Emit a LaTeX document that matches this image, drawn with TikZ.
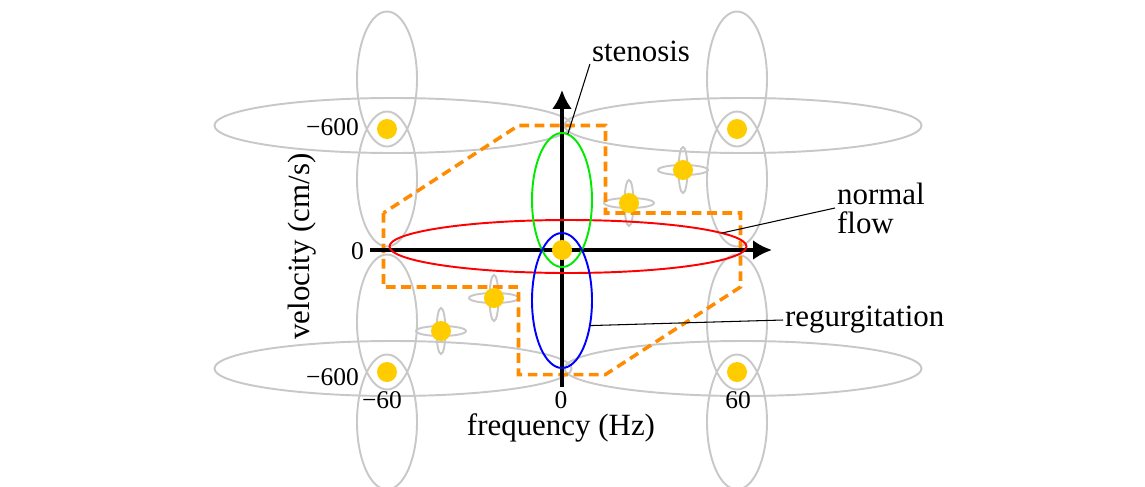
\documentclass[tikz,border=0pt]{standalone}
\usepackage{fontspec}
\setmainfont{Liberation Serif}
\usepackage{xcolor}
\usetikzlibrary{arrows.meta, shapes.geometric, positioning}
\definecolor{spotyellow}{RGB}{255,204,0}
\definecolor{dashorange}{RGB}{255,140,0}
\definecolor{ghostgray}{RGB}{200,200,200}
\definecolor{stengreen}{RGB}{0,235,0}

\begin{document}
\begin{tikzpicture}[>={Latex[length=10.8pt,width=11.4pt]},
    ghost/.style={draw=ghostgray, line width=1.1pt},
    flowell/.style={ellipse, draw, line width=1.1pt, inner sep=0pt, outer sep=0pt},
    spot/.style={fill=spotyellow},
    lbl/.style={font=\fontsize{17.6}{16.5}\selectfont, inner sep=1pt},
    ticklbl/.style={font=\fontsize{14.5}{16}\selectfont, inner sep=1pt}]
    \useasboundingbox (-11.24,-4.72) rectangle (11.66,5.0);

    % Các elip mờ quanh các điểm chồng phổ
    \foreach \a/\b in {-3.5/2.42, 3.5/2.42, -3.5/-2.44, 3.5/-2.44} {
        \draw[ghost] (\a+0.12,\b+0.07) ellipse (3.57 and 0.55);
        \draw[ghost] (\a,\b+1) ellipse (0.6 and 1.35);
        \draw[ghost] (\a,\b-1) ellipse (0.6 and 1.35);
    }
    \foreach \a/\b in {2.42/1.6, 1.34/0.94, -1.36/-0.96, -2.42/-1.62} {
        \draw[ghost] (\a,\b) ellipse (0.5 and 0.1);
        \draw[ghost] (\a,\b) ellipse (0.09 and 0.46);
    }

    % Đường nét đứt
    \draw[dashorange, line width=2pt, dash pattern=on 5.5pt off 3.2pt]
        (-3.57,0.74) -- (-3.57,-0.74) -- (-0.87,-0.74) -- (-0.87,-2.49)
        -- (0.87,-2.49) -- (3.57,-0.74) -- (3.57,0.74) -- (0.87,0.74)
        -- (0.87,2.49) -- (-0.87,2.49) -- cycle;

    % Hệ trục
    \draw[->, line width=2.3pt] (-3.84,0) -- (4.2,0);
    \draw[->, line width=2.3pt] (0,-2.74) -- (0,3.2);

    % Các elip dòng chảy
    \node[flowell, draw=red, minimum width=7.14cm, minimum height=1.06cm] (normal) at (0.12,0.07) {};
    \node[flowell, draw=stengreen, minimum width=1.2cm, minimum height=2.68cm] (sten) at (0,1.0) {};
    \node[flowell, draw=blue, minimum width=1.2cm, minimum height=2.7cm] (regurg) at (0,-1.01) {};

    % Các điểm
    \foreach \a/\b in {0/0, -3.5/2.42, 3.5/2.42, -3.5/-2.44, 3.5/-2.44,
                       2.42/1.6, 1.34/0.94, -1.36/-0.96, -2.42/-1.62} {
        \fill[spot] (\a,\b) circle (0.2);
    }

    % Nhãn trục
    \node[ticklbl] (x0) at (-0.02,-3.0) {0};
    \node[ticklbl] (xm60) at (-3.6,-3.0) {−60};
    \node[ticklbl] (x60) at (3.52,-3.0) {60};
    \node[ticklbl] (y0) at (-4.09,-0.03) {0};
    \node[ticklbl] (ytop) at (-4.59,2.45) {−600};
    \node[ticklbl] (ybot) at (-4.59,-2.54) {−600};
    \node[lbl] (xlab) at (-0.02,-3.56) {frequency (Hz)};
    \node[lbl, rotate=90] (ylab) at (-5.2,0.07) {velocity (cm/s)};

    % Chú thích
    \node[lbl] (stentxt) at (1.58,3.97) {stenosis};
    \node[lbl, align=left, anchor=west] (normtxt) at (5.46,0.84) {normal\\flow};
    \node[lbl, anchor=west] (regtxt) at (4.42,-1.4) {regurgitation};
    \draw[line width=0.6pt] (stentxt.south west) -- (sten.85);
    \draw[line width=0.6pt] (normtxt.west) -- (normal.5);
    \draw[line width=0.6pt] (regtxt.west) -- (regurg.-42);
\end{tikzpicture}
\end{document}
